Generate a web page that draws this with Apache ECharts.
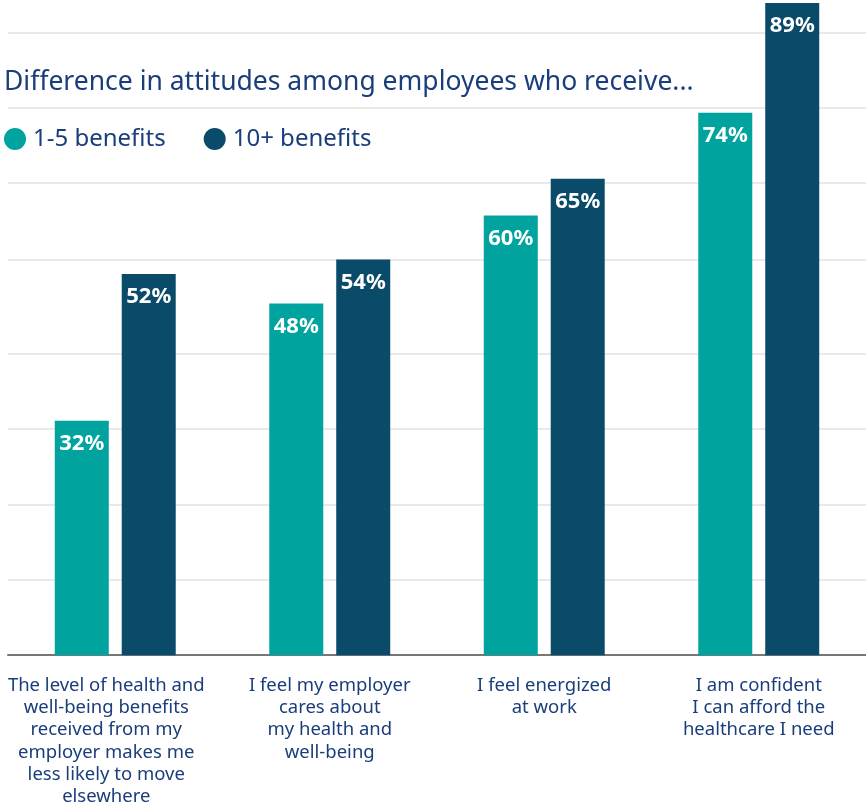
<!DOCTYPE html>
<html>
<head>
<meta charset="utf-8">
<script src="https://cdn.jsdelivr.net/npm/echarts@6/dist/echarts.min.js"></script>
<style>
  html, body { margin: 0; padding: 0; background: #fff; }
  #main { width: 866px; height: 808px; }
</style>
</head>
<body>
<div id="main"></div>
<script>
var categories = [
  "The level of health and\nwell-being benefits\nreceived from my\nemployer makes me\nless likely to move\nelsewhere",
  "I feel my employer\ncares about\nmy health and\nwell-being",
  "I feel energized\nat work",
  "I am confident\nI can afford the\nhealthcare I need"
];
var low = [32, 48, 60, 74];      // 1-5 benefits
var high = [52, 54, 65, 89];     // 10+ benefits
// horizontal guide lines (values on the same % scale)
var gridValues = [10.3, 20.5, 30.9, 41.2, 54, 64.4, 74.7, 84.9];

var teal = "#00a39e";
var navy = "#0a4b6a";
var textBlue = "#1a3d7c";

var chart = echarts.init(document.getElementById("main"));

var labelStyle = {
  show: true,
  position: "insideTop",
  distance: 12,
  color: "#fff",
  fontFamily: "Noto Sans",
  fontWeight: "bold",
  fontSize: 22,
  formatter: "{c}%"
};

// first label sits a little left of its bars in the original
var xData = categories.map(function (c, i) {
  return i === 0 ? { value: c, textStyle: { padding: [0, 18, 0, 0] } } : c;
});

var option = {
  animation: false,
  title: {
    text: "Difference in attitudes among employees who receive...",
    left: 0,
    top: 64,
    padding: [5, 5, 5, 4],
    textStyle: {
      fontFamily: "Noto Sans",
      fontWeight: "normal",
      fontSize: 26.5,
      color: textBlue
    }
  },
  legend: {
    left: 4,
    top: 127,
    padding: 0,
    icon: "circle",
    itemWidth: 22,
    itemHeight: 22,
    itemGap: 38,
    textStyle: {
      fontFamily: "Noto Sans",
      fontSize: 24,
      color: textBlue,
      padding: [0, 0, 0, 2]
    },
    data: ["1-5 benefits", "10+ benefits"]
  },
  grid: {
    left: 8,
    right: 0,
    top: 0,
    bottom: 151,
    containLabel: false
  },
  xAxis: {
    type: "category",
    data: xData,
    axisTick: { show: false },
    axisLine: { lineStyle: { color: "#777", width: 2 } },
    axisLabel: {
      interval: 0,
      margin: 19,
      fontFamily: "Noto Sans",
      fontSize: 18.5,
      lineHeight: 22.3,
      color: textBlue
    }
  },
  yAxis: {
    type: "value",
    min: 0,
    max: 89.4,
    show: false,
    splitLine: { show: false }
  },
  series: [
    {
      name: "1-5 benefits",
      type: "bar",
      data: low,
      barWidth: 54,
      barGap: "24%",
      itemStyle: { color: teal },
      label: labelStyle,
      z: 3,
      markLine: {
        silent: true,
        symbol: "none",
        label: { show: false },
        lineStyle: { color: "#e2e2e2", width: 1.5, type: "solid" },
        data: gridValues.map(function (v) { return { yAxis: v }; }),
        z: 1
      }
    },
    {
      name: "10+ benefits",
      type: "bar",
      data: high,
      barWidth: 54,
      itemStyle: { color: navy },
      label: labelStyle,
      z: 3
    }
  ]
};
chart.setOption(option);
</script>
</body>
</html>
